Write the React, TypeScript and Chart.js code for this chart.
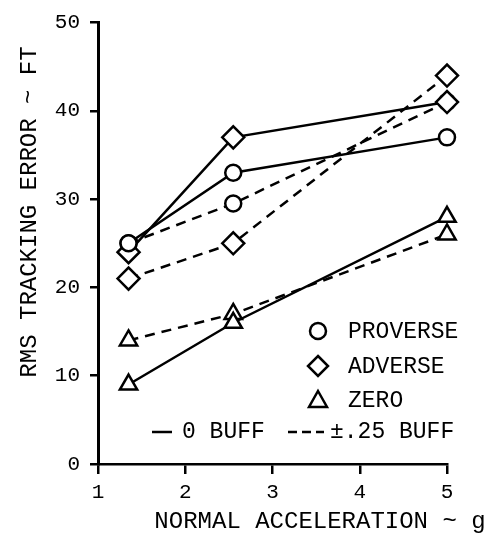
import React, { useEffect, useRef } from "react";
import { Chart, registerables } from "chart.js";
Chart.register(...registerables);

const xValues = [1.35, 2.55, 5.0];
const proverseSolid = [25, 33, 37];
const adverseSolid = [24, 37, 41];
const zeroSolid = [9, 16, 28];
const proverseDashed = [25, 29.5, 41];
const adverseDashed = [21, 25, 44];
const zeroDashed = [14, 17, 26];

const legendLabels = ["PROVERSE", "ADVERSE", "ZERO"];
const lineLegend = ["0 BUFF", "\u00b1.25 BUFF"];
const yTitle = "RMS TRACKING ERROR ~ FT";
const xTitle = "NORMAL ACCELERATION ~ g";

const FONT = '"Liberation Mono", "DejaVu Sans Mono", monospace';

const toPts = (ys: number[]) => xValues.map((x, i) => ({ x, y: ys[i] }));

const overlay = {
  id: "overlay",
  afterDraw(chart: any) {
    const ctx = chart.ctx as CanvasRenderingContext2D;
    ctx.save();
    ctx.fillStyle = "#000";
    ctx.strokeStyle = "#000";
    ctx.font = `24px ${FONT}`;
    ctx.textBaseline = "middle";
    // y title
    ctx.save();
    ctx.translate(30, 212);
    ctx.rotate(-Math.PI / 2);
    ctx.textAlign = "center";
    ctx.fillText(yTitle, 0, 0);
    ctx.restore();
    // x title
    ctx.textAlign = "center";
    ctx.fillText(xTitle, 320, 522);
    // legend symbols
    ctx.font = `23px ${FONT}`;
    ctx.lineWidth = 2.5;
    const sx = 318;
    const ys = [331, 366, 400];
    ctx.beginPath();
    ctx.arc(sx, ys[0], 8, 0, Math.PI * 2);
    ctx.stroke();
    ctx.beginPath();
    ctx.moveTo(sx, ys[1] - 10);
    ctx.lineTo(sx + 10, ys[1]);
    ctx.lineTo(sx, ys[1] + 10);
    ctx.lineTo(sx - 10, ys[1]);
    ctx.closePath();
    ctx.stroke();
    ctx.beginPath();
    ctx.moveTo(sx, ys[2] - 9);
    ctx.lineTo(sx + 9, ys[2] + 7);
    ctx.lineTo(sx - 9, ys[2] + 7);
    ctx.closePath();
    ctx.stroke();
    ctx.textAlign = "left";
    legendLabels.forEach((t, i) => ctx.fillText(t, 348, ys[i] + 1));
    // line legend
    const ly = 432;
    ctx.beginPath();
    ctx.moveTo(152, ly);
    ctx.lineTo(172, ly);
    ctx.stroke();
    ctx.fillText(lineLegend[0], 182, ly);
    ctx.setLineDash([9, 5]);
    ctx.beginPath();
    ctx.moveTo(288, ly);
    ctx.lineTo(324, ly);
    ctx.stroke();
    ctx.setLineDash([]);
    ctx.fillText(lineLegend[1], 330, ly);
    ctx.restore();
  },
};

export default function App() {
  const ref = useRef<HTMLCanvasElement>(null);
  useEffect(() => {
    document.body.style.margin = "0";
    const mk = (data: number[], style: string, radius: number, dashed: boolean) => ({
      data: toPts(data),
      borderColor: "#000",
      borderWidth: 2.5,
      borderDash: dashed ? [10, 7] : [],
      pointStyle: style,
      pointRadius: radius,
      pointBorderWidth: 2.5,
      pointBackgroundColor: "#fff",
      pointBorderColor: "#000",
      fill: false,
      tension: 0,
      showLine: true,
      clip: false,
    });
    const chart = new Chart(ref.current!, {
      type: "scatter",
      data: {
        datasets: [
          mk(proverseSolid, "circle", 8, false),
          mk(adverseSolid, "rectRot", 11, false),
          mk(zeroSolid, "triangle", 10, false),
          mk(proverseDashed, "circle", 8, true),
          mk(adverseDashed, "rectRot", 11, true),
          mk(zeroDashed, "triangle", 10, true),
        ] as any,
      },
      options: {
        animation: false,
        responsive: false,
        maintainAspectRatio: false,
        layout: { padding: { left: 0, top: 21, right: 46, bottom: 0 } },
        plugins: { legend: { display: false }, tooltip: { enabled: false } },
        scales: {
          x: {
            type: "linear",
            min: 1,
            max: 5,
            afterFit: (s: any) => { s.height = 72; },
            border: { display: true, color: "#000", width: 2.5 },
            grid: { drawOnChartArea: false, drawTicks: true, tickLength: 10, color: "#000", lineWidth: 2.5 },
            ticks: { stepSize: 1, color: "#000", padding: 6, font: { family: FONT, size: 21 } },
          },
          y: {
            type: "linear",
            min: 0,
            max: 50,
            afterFit: (s: any) => { s.width = 98; },
            border: { display: true, color: "#000", width: 3 },
            grid: { drawOnChartArea: false, drawTicks: true, tickLength: 8, color: "#000", lineWidth: 2.5 },
            ticks: { stepSize: 10, color: "#000", padding: 10, font: { family: FONT, size: 21 } },
          },
        },
      },
      plugins: [overlay],
    });
    return () => chart.destroy();
  }, []);
  return (
    <div style={{ width: 493, height: 536 }}>
      <canvas ref={ref} width={493} height={536} style={{ display: "block" }} />
    </div>
  );
}
